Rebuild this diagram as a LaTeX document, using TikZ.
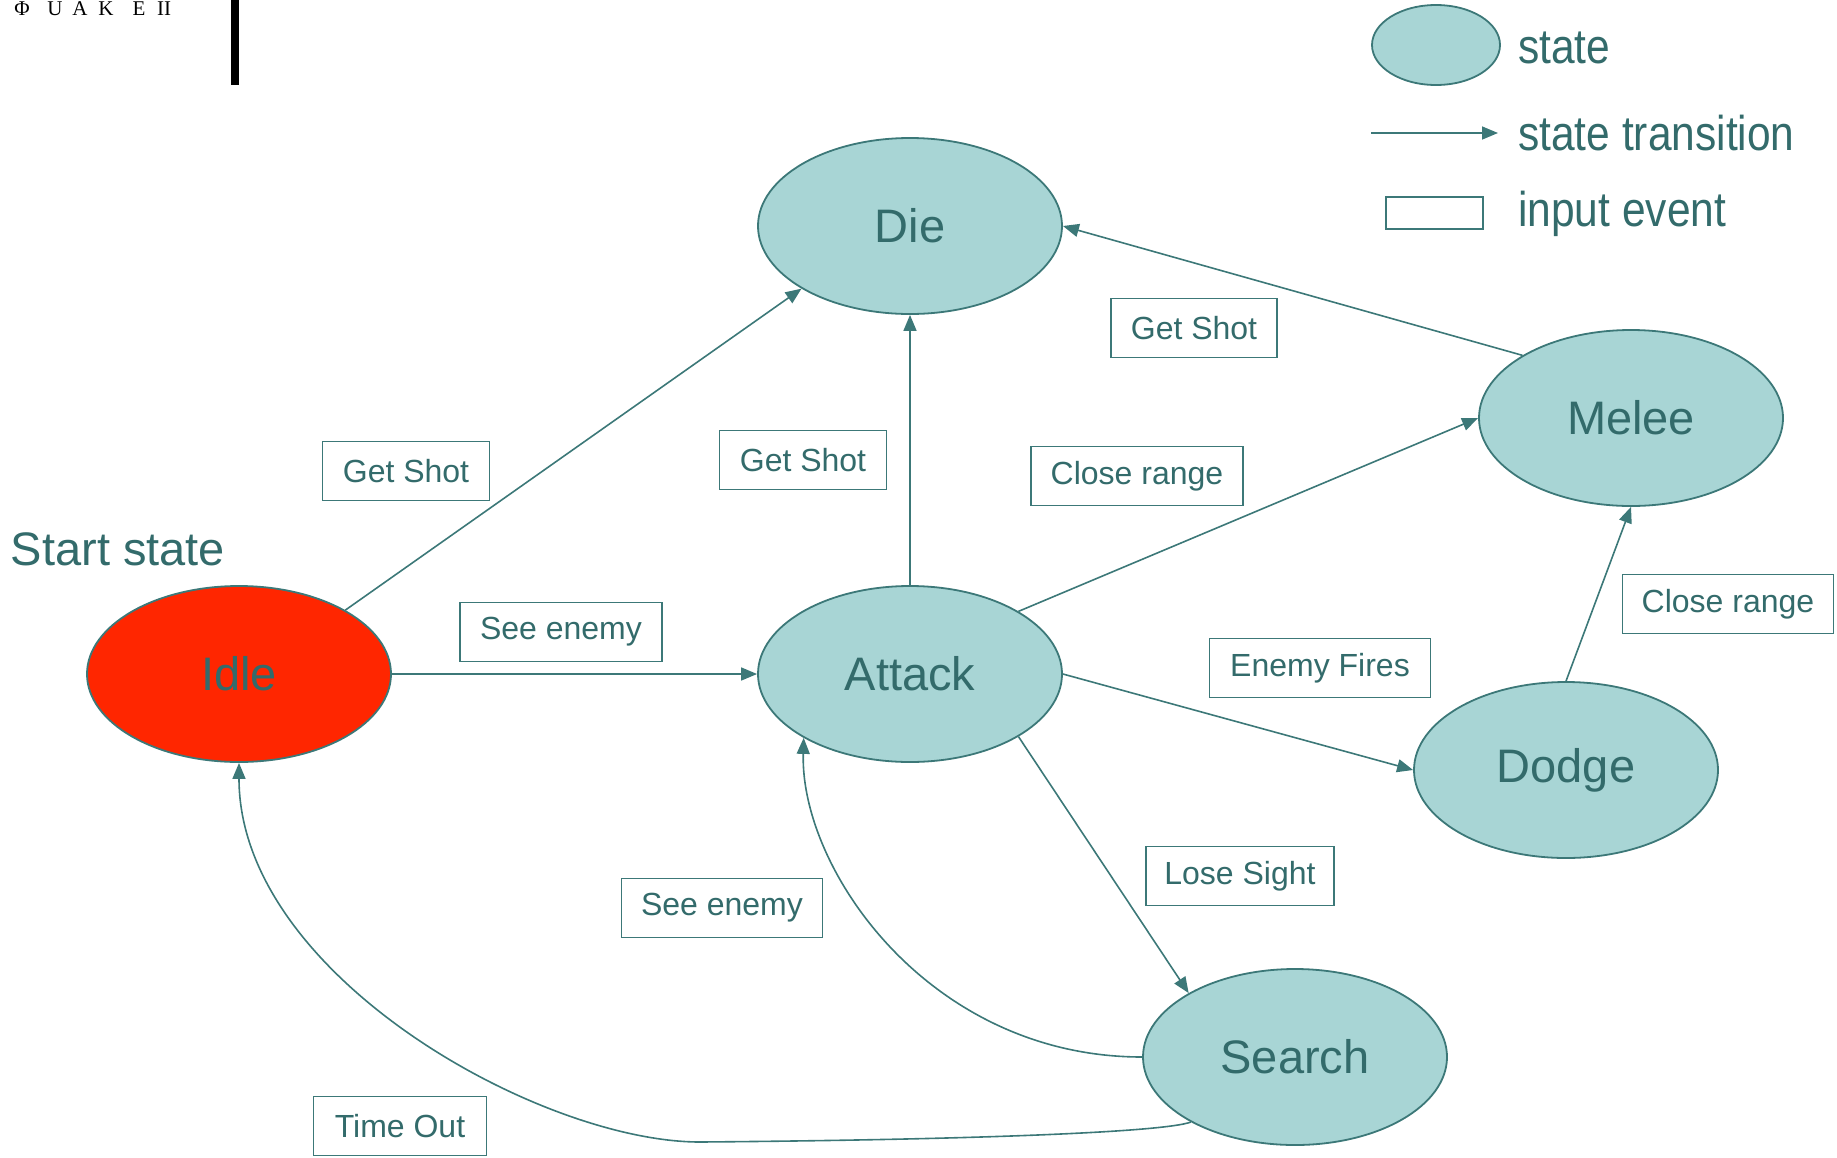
\documentclass[tikz,border=0pt]{standalone}
\usepackage{fontspec}
\usepackage{graphicx}
\setmainfont{Liberation Sans}
\newfontfamily\logofont{Liberation Serif}
\usetikzlibrary{shapes.geometric,arrows.meta}
\definecolor{edgec}{RGB}{60,120,120}
\definecolor{txtc}{RGB}{51,107,107}
\definecolor{statefill}{RGB}{168,213,213}
\definecolor{idlefill}{RGB}{255,38,0}
\begin{document}
\begin{tikzpicture}[x=1pt,y=-1pt,
  state/.style={ellipse, draw=edgec, line width=1.8pt, fill=statefill,
    minimum width=304pt, minimum height=176pt, inner sep=0pt, text=txtc,
    font=\fontsize{47}{56}\selectfont},
  evt/.style={draw=edgec, line width=1.8pt, fill=white, minimum height=59pt,
    inner sep=0pt, text=txtc, font=\fontsize{32}{38}\selectfont},
  trans/.style={draw=edgec, line width=1.6pt, -{Triangle[length=16pt,width=13pt]}},
  legtxt/.style={anchor=base west, text=txtc, inner sep=0pt, font=\fontsize{42.5}{50}\selectfont},
]
\path[use as bounding box] (0,0) rectangle (1837,1157);

% logo fragment
\fill[black] (231,0) rectangle (239,85);
\begin{scope}
  \clip (0,0) rectangle (200,22);
  \foreach \ch/\xx in {Φ/22,U/55,A/80,K/106,E/139,II/164}
    \node[anchor=base, inner sep=0pt, font=\logofont\fontsize{21}{21}\selectfont] at (\xx,15) {\ch};
\end{scope}

% states
\node[state] (die) at (910,226) {Die};
\node[state] (melee) at (1631,418) {Melee};
\node[state, fill=idlefill] (idle) at (239,674) {Idle};
\node[state] (attack) at (910,674) {Attack};
\node[state] (dodge) at (1566,770) {Dodge};
\node[state] (search) at (1295,1057) {Search};

\node[text=txtc, inner sep=0pt, font=\fontsize{47}{56}\selectfont] (start) at (118,549) {Start state};

% transitions
\draw[trans] (idle.31) -- (die.210);
\draw[trans] (attack) -- (die);
\draw[trans] (melee.150) -- (die.east);
\draw[trans] (attack.30) -- (melee.west);
\draw[trans] (dodge.north) -- (melee.south);
\draw[trans] (idle.east) -- (attack.west);
\draw[trans] (attack.east) -- (dodge.west);
\draw[trans] (attack.330) -- (search.149);
\draw[trans] (search.west) .. controls (930,1057) and (800,870) .. (attack.211);
\coordinate (bend) at (700,1142);
\draw[trans] (search.212) .. controls (1160,1133) and (950,1140) .. (bend)
  .. controls (540,1142) and (239,975) .. (idle.south);

% input events
\node[evt, minimum width=167pt] (gs1) at (406,471) {Get Shot};
\node[evt, minimum width=167pt] (gs2) at (803,460) {Get Shot};
\node[evt, minimum width=166pt] (gs3) at (1194,328) {Get Shot};
\node[evt, minimum width=212pt] (cr1) at (1137,476) {Close range};
\node[evt, minimum width=211pt] (cr2) at (1728,604) {Close range};
\node[evt, minimum width=202pt] (se1) at (561,632) {See enemy};
\node[evt, minimum width=221pt] (ef) at (1320,668) {Enemy Fires};
\node[evt, minimum width=188pt] (ls) at (1240,876) {Lose Sight};
\node[evt, minimum width=201pt] (se2) at (722,908) {See enemy};
\node[evt, minimum width=173pt] (to) at (400,1126) {Time Out};

% legend
\node[ellipse, draw=edgec, line width=1.8pt, fill=statefill, minimum width=128pt,
  minimum height=80pt, inner sep=0pt] (lgs) at (1436,45) {};
\node[legtxt] (lgst) at (1518,63) {\scalebox{1}[1.15]{state}};
\coordinate (la1) at (1371,133);
\coordinate (la2) at (1498,133);
\draw[trans] (la1) -- (la2);
\node[legtxt] (lgtt) at (1518,150) {\scalebox{1}[1.15]{state transition}};
\node[draw=edgec, line width=1.8pt, minimum width=97pt, minimum height=32pt, inner sep=0pt] (lgb) at (1434.5,213) {};
\node[legtxt] (lgie) at (1518,226) {\scalebox{1}[1.15]{input event}};
\end{tikzpicture}
\end{document}
